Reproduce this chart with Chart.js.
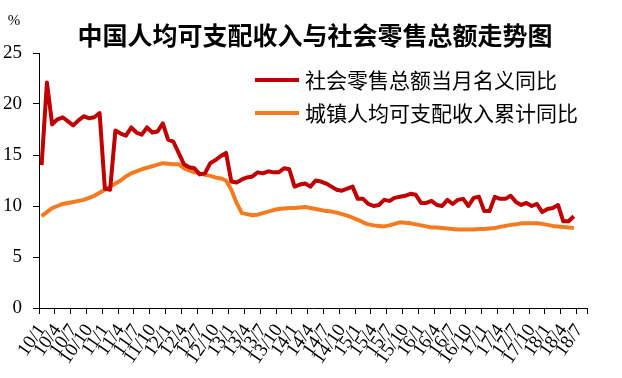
<!DOCTYPE html>
<html>
<head>
<meta charset="utf-8">
<script src="https://cdn.jsdelivr.net/npm/chart.js@4.4.0/dist/chart.umd.min.js"></script>
<style>
  html, body { margin: 0; padding: 0; background: #fff; }
  #wrap { width: 622px; height: 378px; }
</style>
</head>
<body>
<div id="wrap"><canvas id="trendChart" width="622" height="378"></canvas></div>
<script>
// 月份：2010年1月 - 2018年8月，标签形如 10/1
var years = ['10', '11', '12', '13', '14', '15', '16', '17', '18'];
var lastYearMonths = 8;
var monthLabels = [];
years.forEach(function (y, k) {
    var n = (k === years.length - 1) ? lastYearMonths : 12;
    for (var m = 1; m <= n; m++) monthLabels.push(y + '/' + m);
});

// 社会零售总额当月名义同比 (%)
var retailYoY = [
    14.0, 22.1, 18.0, 18.5, 18.7, 18.3, 17.9, 18.4, 18.8, 18.6, 18.7, 19.1,
    11.7, 11.6, 17.4, 17.1, 16.9, 17.7, 17.2, 17.0, 17.7, 17.2, 17.3, 18.1,
    16.5, 16.3, 15.2, 14.1, 13.8, 13.7, 13.1, 13.2, 14.2, 14.5, 14.9, 15.2,
    12.4, 12.3, 12.6, 12.8, 12.9, 13.3, 13.2, 13.4, 13.3, 13.3, 13.7, 13.6,
    11.9, 12.1, 12.2, 11.9, 12.5, 12.4, 12.2, 11.9, 11.6, 11.5, 11.7, 11.9,
    10.7, 10.7, 10.2, 10.0, 10.1, 10.6, 10.5, 10.8, 10.9, 11.0, 11.2, 11.1,
    10.3, 10.3, 10.5, 10.1, 10.0, 10.6, 10.2, 10.6, 10.7, 10.0, 10.8, 10.9,
    9.5, 9.5, 10.9, 10.7, 10.7, 11.0, 10.4, 10.1, 10.3, 10.0, 10.2, 9.4,
    9.7, 9.8, 10.1, 8.5, 8.5, 9.0, null, null
];

// 城镇人均可支配收入累计同比 (%)
var incomeYoY = [
    9.0, 9.4, 9.8, 10.0, 10.2, 10.3, 10.4, 10.5, 10.6, 10.8, 11.0, 11.3,
    11.6, 11.9, 12.2, 12.5, 12.9, 13.2, 13.4, 13.6, 13.75, 13.9, 14.05, 14.2,
    14.15, 14.1, 14.1, 13.7, 13.5, 13.3, 13.2, 13.05, 12.95, 12.8, 12.7, 12.5,
    11.6, 10.3, 9.3, 9.2, 9.1, 9.15, 9.3, 9.45, 9.6, 9.7, 9.75, 9.8,
    9.8, 9.85, 9.9, 9.8, 9.7, 9.6, 9.5, 9.45, 9.35, 9.2, 9.05, 8.85,
    8.65, 8.4, 8.2, 8.1, 8.05, 8.0, 8.1, 8.25, 8.4, 8.35, 8.3, 8.2,
    8.1, 8.0, 7.9, 7.9, 7.85, 7.8, 7.75, 7.7, 7.7, 7.7, 7.7, 7.75,
    7.75, 7.8, 7.85, 7.95, 8.05, 8.15, 8.2, 8.3, 8.3, 8.3, 8.3, 8.25,
    8.15, 8.05, 8.0, 7.95, 7.9, 7.85, null, null
];

var yTicks = [0, 5, 10, 15, 20, 25];
var chartTitle = '中国人均可支配收入与社会零售总额走势图';

// 标题、单位 % 和绘图区内右上角的图例
var headerAndLegend = {
    id: 'headerAndLegend',
    afterDraw: function (chart) {
        var ctx = chart.ctx;
        ctx.save();
        ctx.fillStyle = '#000';
        ctx.textBaseline = 'middle';
        ctx.textAlign = 'center';
        ctx.font = 'bold 25px "Noto Sans CJK SC"';
        ctx.fillText(chartTitle, 315, 35);

        ctx.font = '15px "Liberation Serif"';
        ctx.fillText('%', 14, 21);

        ctx.textAlign = 'left';
        ctx.font = '21px "Noto Sans CJK SC"';
        var rows = [80, 113];
        chart.data.datasets.forEach(function (ds, i) {
            var y = rows[i];
            ctx.strokeStyle = ds.borderColor;
            ctx.lineWidth = 4;
            ctx.beginPath();
            ctx.moveTo(255, y);
            ctx.lineTo(299, y);
            ctx.stroke();
            ctx.fillText(ds.label, 305, y);
        });
        ctx.restore();
    }
};

var serif = 'Liberation Serif';

new Chart(document.getElementById('trendChart').getContext('2d'), {
    type: 'line',
    data: {
        labels: monthLabels,
        datasets: [
            {
                label: '社会零售总额当月名义同比',
                data: retailYoY,
                borderColor: '#c00000',
                borderWidth: 4,
                pointRadius: 0,
                borderJoinStyle: 'round',
                tension: 0,
                fill: false
            },
            {
                label: '城镇人均可支配收入累计同比',
                data: incomeYoY,
                borderColor: '#f47b20',
                borderWidth: 4,
                pointRadius: 0,
                borderJoinStyle: 'round',
                tension: 0,
                fill: false
            }
        ]
    },
    options: {
        responsive: false,
        animation: false,
        devicePixelRatio: 1,
        layout: {
            padding: { left: 0, right: 35, top: 53, bottom: 0 }
        },
        scales: {
            x: {
                offset: true,
                border: { color: '#000', width: 1 },
                grid: {
                    offset: true,
                    drawOnChartArea: false,
                    tickLength: 6,
                    tickColor: function (c) {
                        return (c.index === undefined || c.index % 3 === 0) ? '#000' : 'rgba(0,0,0,0)';
                    }
                },
                ticks: {
                    autoSkip: false,
                    minRotation: 55,
                    maxRotation: 55,
                    padding: 6,
                    color: '#000',
                    font: { family: serif, size: 19 },
                    callback: function (v, i) {
                        return i % 3 === 0 ? this.getLabelForValue(v) : '';
                    }
                },
                afterFit: function (s) { s.height = 70; }
            },
            y: {
                min: yTicks[0],
                max: yTicks[yTicks.length - 1],
                border: { color: '#000', width: 1 },
                grid: {
                    drawOnChartArea: false,
                    tickLength: 6,
                    tickColor: '#000'
                },
                ticks: {
                    stepSize: yTicks[1] - yTicks[0],
                    padding: 11,
                    color: '#000',
                    font: { family: serif, size: 19 }
                },
                afterFit: function (s) { s.width = 39; }
            }
        },
        plugins: {
            legend: { display: false },
            tooltip: { enabled: false },
            title: { display: false }
        }
    },
    plugins: [headerAndLegend]
});
</script>
</body>
</html>
